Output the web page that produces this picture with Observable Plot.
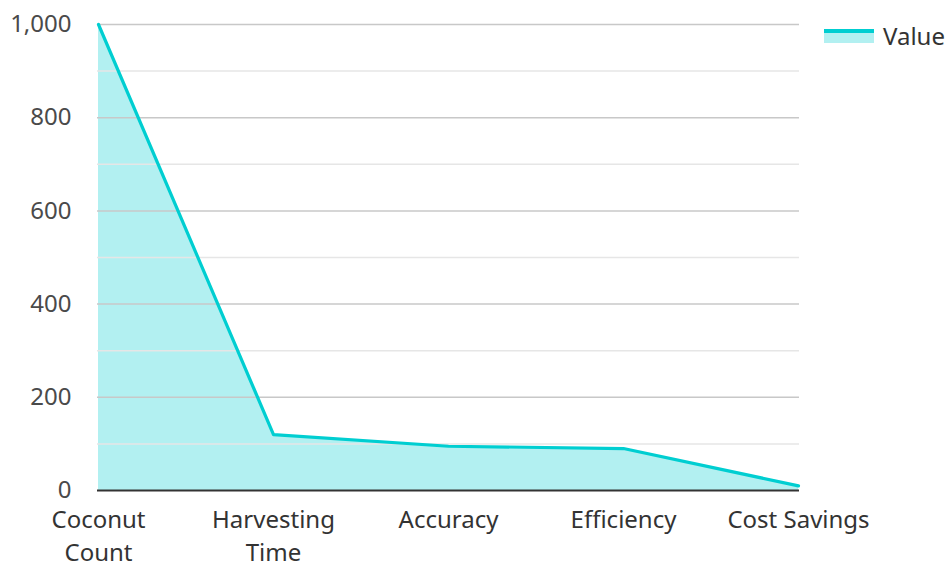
<!DOCTYPE html>
<html>
<head>
<meta charset="utf-8">
<script src="https://cdn.jsdelivr.net/npm/d3@7"></script>
<script src="https://cdn.jsdelivr.net/npm/@observablehq/plot@0.6"></script>
<style>
  html, body { margin: 0; padding: 0; background: #fff; }
  #wrap { position: relative; width: 949px; height: 562px; font-family: "Noto Sans", "Open Sans", sans-serif; }
  #legend { position: absolute; left: 824px; top: 21px; display: flex; align-items: center; }
  #legend .sw { width: 50px; height: 16px; position: relative; }
  #legend .sw .ln { position: absolute; left: 0; top: 1px; width: 50px; height: 4px; background: #00ced1; }
  #legend .sw .fl { position: absolute; left: 0; top: 5px; width: 50px; height: 10px; background: #b2f0f1; }
  #legend span { margin-left: 9px; font-size: 24px; color: #333; line-height: 30px; }
</style>
</head>
<body>
<div id="wrap">
  <div id="chart"></div>
  <div id="legend"><div class="sw"><div class="ln"></div><div class="fl"></div></div><span>Value</span></div>
</div>
<script>
const categories = ["Coconut Count", "Harvesting Time", "Accuracy", "Efficiency", "Cost Savings"];
const values = [1000, 120, 95, 90, 10];
const tickLabels = ["Coconut\nCount", "Harvesting\nTime", "Accuracy", "Efficiency", "Cost Savings"];
const majorTicks = [200, 400, 600, 800, 1000];
const minorTicks = [100, 300, 500, 700, 900];

const data = categories.map((c, i) => ({category: c, value: values[i]}));
const labelOf = new Map(categories.map((c, i) => [c, tickLabels[i]]));

const chart = Plot.plot({
  width: 949,
  height: 562,
  marginLeft: 97,
  marginRight: 150,
  marginTop: 24,
  marginBottom: 72,
  style: {fontFamily: '"Noto Sans", "Open Sans", sans-serif', fontSize: "24px", color: "#4a4a4a", background: "#fff", overflow: "visible"},
  x: {type: "point", domain: categories, padding: 0, label: null},
  y: {domain: [0, 1000], label: null},
  marks: [
    Plot.areaY(data, {x: "category", y: "value", fill: "#b2f0f1", curve: "linear"}),
    Plot.ruleY(minorTicks, {stroke: "#e6e6e6", strokeWidth: 1.5}),
    Plot.ruleY(majorTicks, {stroke: "#c8c8c8", strokeWidth: 1.5}),
    Plot.lineY(data, {x: "category", y: "value", stroke: "#00ced1", strokeWidth: 3.2, curve: "linear"}),
    Plot.ruleY([0], {stroke: "#333", strokeWidth: 2}),
    Plot.axisY({ticks: [0, ...majorTicks], tickSize: 0, tickPadding: 26, tickFormat: d3.format(","), fontSize: 24, fill: "#4a4a4a"}),
    Plot.axisX({tickSize: 0, tickPadding: 14, tickFormat: d => labelOf.get(d), lineHeight: 1.38, fontSize: 24, fill: "#333"})
  ]
});
document.getElementById("chart").appendChild(chart);
</script>
</body>
</html>
